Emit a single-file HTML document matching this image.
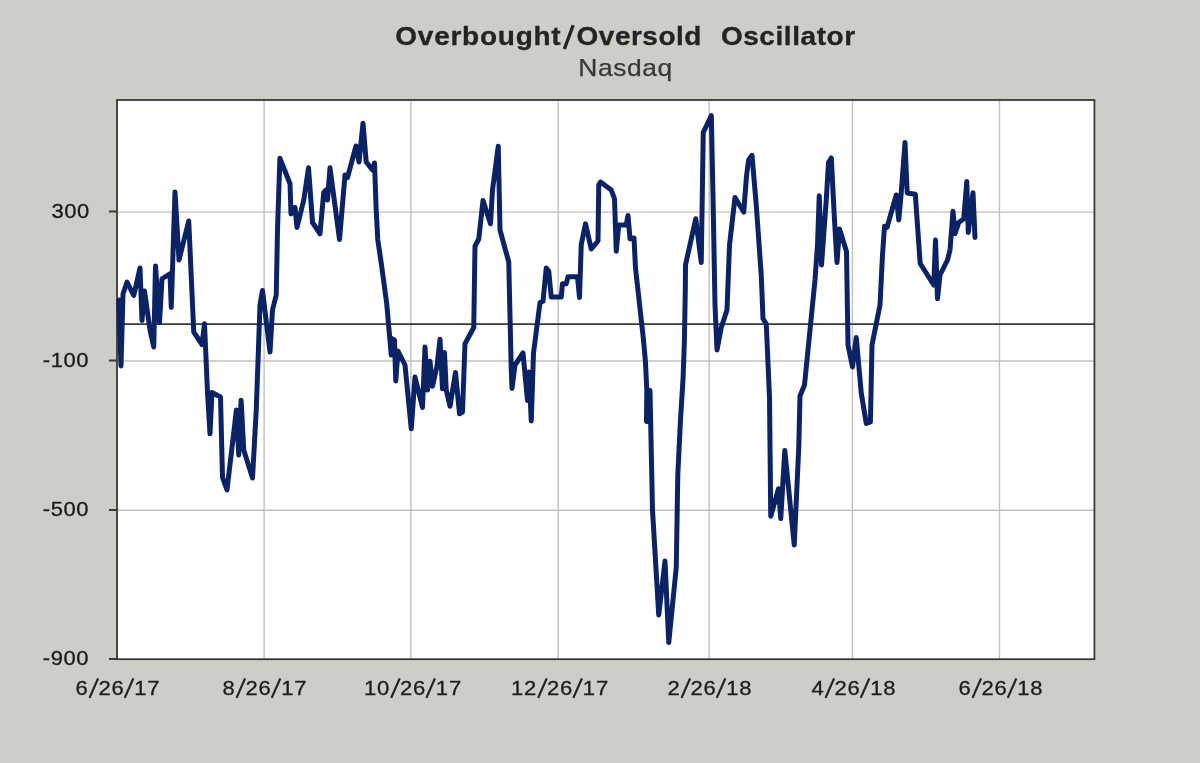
<!DOCTYPE html>
<html><head><meta charset="utf-8">
<style>
html,body{margin:0;padding:0;}
body{width:1200px;height:763px;background:#cbcfc8;overflow:hidden;position:relative;font-family:"Liberation Sans",sans-serif;color:#1c1c1c;}
.t{position:absolute;white-space:pre;line-height:1;}
#title{left:0;width:1251px;text-align:center;top:24px;font-size:25px;font-weight:bold;letter-spacing:0.6px;word-spacing:0.9px;color:#242424;-webkit-text-stroke:0.3px #242424;transform:scaleX(1.12);transform-origin:625.5px 0;}
#sub{left:0;width:1251px;text-align:center;top:56px;font-size:24px;letter-spacing:0.5px;color:#383838;-webkit-text-stroke:0.25px #383838;transform:scaleX(1.1);transform-origin:625.5px 0;}
.yl{-webkit-text-stroke:0.3px #1c1c1c;right:1110.5px;font-size:20px;letter-spacing:0.5px;text-align:right;transform:scaleX(1.1);transform-origin:100% 0;}
.xl{-webkit-text-stroke:0.3px #1c1c1c;font-size:20px;letter-spacing:0.75px;width:200px;text-align:center;top:678px;margin-left:-0.2px;transform:scaleX(1.1);}
.tsl{display:inline-block;width:13.5px;height:18px;position:relative;letter-spacing:0;}
.tsl::after{content:"";position:absolute;left:50%;top:56%;width:3.2px;height:24.6px;background:#242424;transform:translate(-50%,-50%) rotate(18.5deg);}
.sl{display:inline-block;width:8.9px;height:14px;position:relative;letter-spacing:0;}
.sl::after{content:"";position:absolute;left:50%;top:50%;width:1.75px;height:20.6px;background:#242424;transform:translate(-50%,-50%) rotate(21.7deg);}
svg{position:absolute;left:0;top:0;}
#wrap{position:absolute;left:0;top:0;width:1200px;height:763px;filter:blur(0.55px);}
</style></head><body>
<div id="wrap">
<svg width="1200" height="763" viewBox="0 0 1200 763">
<rect x="117" y="100" width="977.5" height="559" fill="#ffffff"/>
<g stroke="#c0c0c0" stroke-width="1.4" fill="none">
<path d="M117 212.1H1094 M117 361H1094 M117 510.3H1094"/>
<path d="M264.1 100V659 M410.9 100V659 M558.2 100V659 M709.2 100V659 M852.4 100V659 M999.5 100V659"/>
</g>
<g stroke="#383838" stroke-width="1.8" fill="none">
<path d="M117 324.2H1094"/>
<rect x="117" y="100" width="977.4" height="559.2"/>
<path d="M109 211.5H117 M109 360.5H117 M109 510H117 M109 659H117"/>
</g>
<polyline fill="none" stroke="#0b2265" stroke-width="5" stroke-linejoin="round" stroke-linecap="round" points="118.8,300 121,366 123,294 127,282 133.75,295.5 140,268 142,320.5 144.5,291 150,330 153.75,347 155.5,266 159.5,322.5 162,278.75 170,273.75 171.25,307.5 175,192 179,260 188.75,221 193.75,332 202,344.5 204.5,323.75 207.5,392.5 210,433.75 212,392.5 220.5,397 222.5,477.5 227,490 236.4,410 238.75,455 241.1,400.2 243.75,450 252.5,478 256.25,410 260,305 262.5,290.5 270,352 272.5,310 276.25,295 277.5,230 279.9,158.2 290,183.75 291,214 295,207.5 297,227.5 303.75,200 308.5,167.8 312.5,222.5 320,233.75 323.75,192.5 326,190 327.5,200 330,167.8 339.5,239.5 345,175 347.5,177.5 356,146 359,162 363,123.3 366.2,162 372.5,170 374.5,163 376.2,210 377.8,240 381.5,265 386.7,303.5 391.25,355 392.5,338.75 394.5,340 395.75,381 398,351 405,365 411.25,428.75 415,377 422.5,407.5 425,347 427.5,390 430,361.25 432.5,386.25 437,366 440,339.25 442.5,388.75 444.5,352.5 446.25,390 450,406.25 455.5,372.5 459.5,413.75 462.5,412 465,343.75 473.75,327.5 475,246.25 478.75,239 483,200.6 490.5,223.75 492.5,190 498.25,146.25 500,230 508.75,262 511.25,370 512,388.5 515,365 523,353 527.5,400.5 529,372 531.25,421 533.5,353 540,302.5 543,301.25 546.25,268 548.75,271.25 551.25,297 561.25,297 562.5,283.75 566.25,283.75 568,276.75 577.5,276.75 579.5,297.5 581.25,244.5 585.5,223.75 591.25,249 598,241 598.75,185 600.5,182 611.25,190 614.5,198.75 616.25,251.25 618.75,225 626.25,225 628,215.5 630,238.75 634,238 635.5,268 643.3,338 645.4,361 646.8,390 646.5,421.5 650,390.5 652.5,510 658.75,615 665,561 668.75,642.5 676.25,567.5 677.8,475 680.4,421.5 683.1,378 684.4,340 685.3,290 685.5,265 695.75,218.75 701.25,262.5 703.25,132.5 711.3,115.6 713,195 715,305 717,350 721.25,327.5 727,310 729.5,245 735,197.5 743.75,212 746.5,176 748.6,160 752,155.3 756.25,205 761.25,275 763,318.75 766.25,323.75 769.5,397.5 770.75,516.25 778.5,488.75 780.75,518.5 784.8,450.5 794.25,545 798.75,447.5 800,396 804.5,385 810,330 815,280 817.5,245 819.25,195.75 821.5,265 826.25,200 828.5,162.5 831.3,158 834.5,220 837,262.5 839.5,229 846.5,251.5 848,345 852.5,367 856.25,337.5 861.25,393 866.3,423.5 870.4,422 872,345 880,305 882.5,255 884.5,226.25 887,227.5 896.25,195 898.75,220 901.25,192.5 905,142.5 907.2,193 915.3,194.3 920.2,263.5 933.75,285 935.5,240 937.5,298.75 940,275 947.5,260 950,250 953,211.25 955,233.75 958.75,222.5 963.75,218.75 966.8,181.5 968.25,232.5 973,192.7 975,237.5"/>
</svg>
<div class="t" id="title"><span style="letter-spacing:0.66px">Overbought</span><span class="tsl"></span><span style="letter-spacing:0.45px">Oversold</span>  <span style="letter-spacing:0.5px">Oscillator</span></div>
<div class="t" id="sub">Nasdaq</div>
<div class="t yl" style="top:201px">300</div>
<div class="t yl" style="top:350px">-100</div>
<div class="t yl" style="top:499px">-500</div>
<div class="t yl" style="top:648px">-900</div>
<div class="t xl" style="left:18px">6<span class="sl"></span>26<span class="sl"></span>17</div>
<div class="t xl" style="left:165px">8<span class="sl"></span>26<span class="sl"></span>17</div>
<div class="t xl" style="left:313px">10<span class="sl"></span>26<span class="sl"></span>17</div>
<div class="t xl" style="left:460px">12<span class="sl"></span>26<span class="sl"></span>17</div>
<div class="t xl" style="left:610px">2<span class="sl"></span>26<span class="sl"></span>18</div>
<div class="t xl" style="left:754px">4<span class="sl"></span>26<span class="sl"></span>18</div>
<div class="t xl" style="left:901px">6<span class="sl"></span>26<span class="sl"></span>18</div>
</div>
</body></html>
